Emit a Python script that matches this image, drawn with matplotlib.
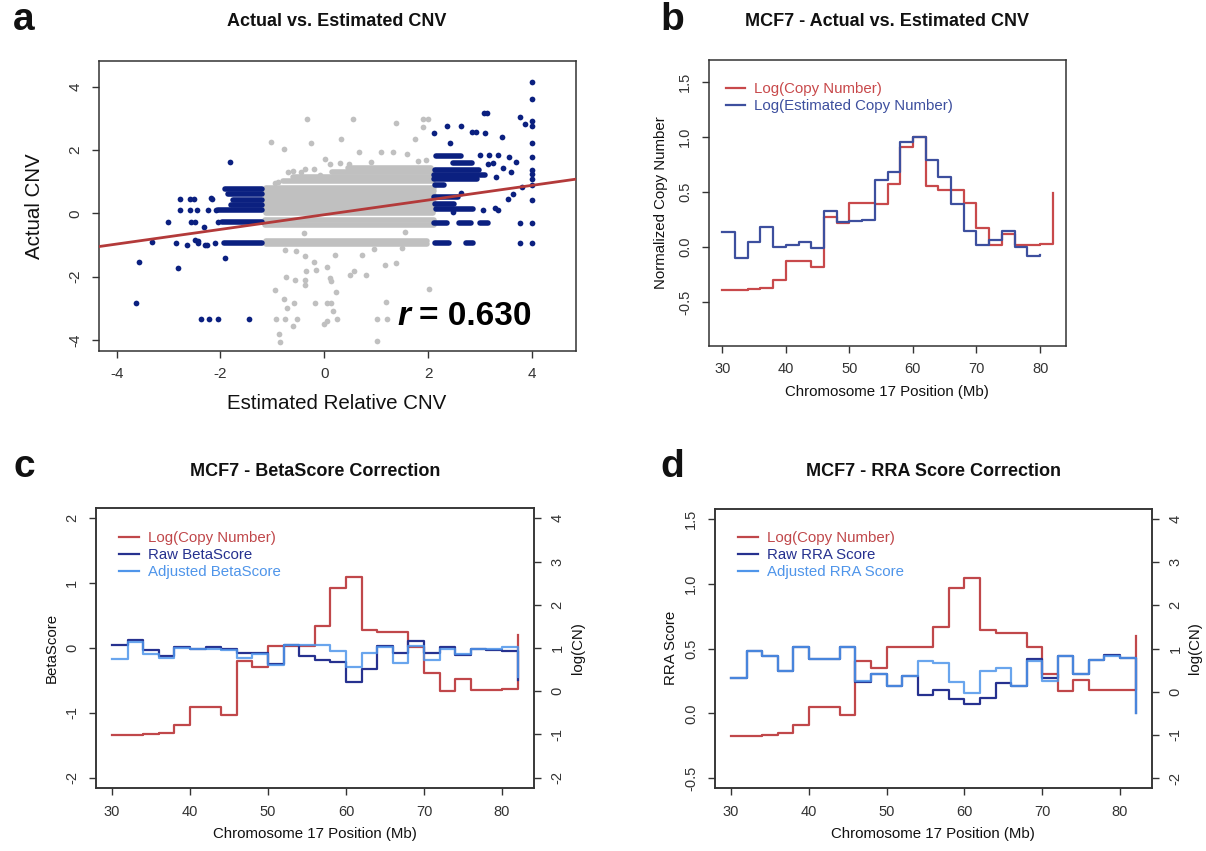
import matplotlib
matplotlib.use('Agg')
import matplotlib.pyplot as plt
from matplotlib.lines import Line2D

plt.rcParams['font.family'] = ['Liberation Sans', 'DejaVu Sans']
plt.rcParams['axes.unicode_minus'] = False

# ---------------- data ----------------
# panel a: scatter of estimated vs actual CNV
# dense runs of points (x start, x end, y)
gray_runs = [(0.45, 2.05, 1.45), (0.15, 2.1, 1.3), (-0.6, 2.1, 1.16), (-0.8, 2.1, 1.04),
             (-1.12, 2.12, 0.82), (-1.15, 2.12, 0.70), (-1.15, 2.12, 0.58), (-1.15, 2.12, 0.46),
             (-1.15, 2.12, 0.34), (-1.15, 2.12, 0.22), (-1.15, 2.12, 0.10), (-1.12, 2.1, 0.02),
             (-1.15, 2.12, -0.22), (-1.15, 2.12, -0.36), (-1.12, 1.98, -0.88), (-1.12, 1.98, -0.98)]
gray_x = [-0.33, 0.56, 1.91, 2.0, 1.39, 1.91, 0.32, 1.74, -1.03, -0.77, -0.25, 0.67, 1.09, 1.32,
          1.6, 0.02, 0.47, -0.61, -0.38, -0.09, -0.75, -0.38, -0.2, 0.06, 0.21, 0.72, 0.58, 0.5,
          0.8, 1.17, 1.39, -0.74, -0.57, -0.38, -0.38, -0.35, -0.16, 0.1, 0.13, -0.95, 0.22, 2.02,
          -0.77, -0.59, -0.18, 0.06, 0.13, 1.18, -0.72, 0.17, -0.94, -0.75, -0.53, 0.24, 1.02, 1.2,
          -0.61, -0.01, 0.06, -0.88, -0.85, 1.01, -0.55, 1.55, -0.45, 0.1, 0.9, 1.8, -0.95, 1.95,
          -0.7, -0.2, 0.3, -0.9, -0.4, 0.95, 1.5]
gray_y = [2.98, 3.0, 2.98, 2.98, 2.85, 2.74, 2.36, 2.36, 2.25, 2.04, 2.22, 1.94, 1.94, 1.94,
          1.88, 1.73, 1.57, 1.34, 1.41, 1.23, -1.15, -1.36, -1.52, -1.68, -1.31, -1.31, -1.83, -1.94,
          -1.94, -1.62, -1.57, -2.02, -2.09, -2.09, -2.25, -1.83, -1.78, -2.04, -2.15, -2.41, -2.48, -2.39,
          -2.72, -2.83, -2.83, -2.83, -2.83, -2.81, -2.98, -3.09, -3.33, -3.35, -3.33, -3.35, -3.35, -3.33,
          -3.56, -3.51, -3.4, -3.82, -4.08, -4.03, -1.2, -0.6, 1.3, 1.55, 1.62, 1.65, 0.95, 1.7,
          1.32, 1.42, 1.58, 1.0, -0.62, -1.12, -1.1]
blue_runs = [(-1.92, -1.2, 0.76), (-1.85, -1.2, 0.6), (-1.75, -1.2, 0.44), (-1.8, -1.2, 0.28),
             (-2.05, -1.2, 0.12), (-1.97, -1.2, -0.28), (-1.93, -1.2, -0.95),
             (2.16, 2.64, 1.82), (2.47, 2.84, 1.58), (2.13, 2.97, 1.38), (2.12, 3.1, 1.22),
             (2.12, 2.95, 1.1), (2.14, 2.3, 0.9), (2.12, 2.58, 0.53), (2.14, 2.5, 0.3),
             (2.16, 2.86, 0.14), (2.12, 2.37, -0.31), (2.59, 2.82, -0.31), (3.0, 3.15, -0.31),
             (2.14, 2.4, -0.94), (2.73, 2.86, -0.94)]
blue_x = [-3.57, -3.62, -3.32, -3.02, -2.82, -2.78, -2.78, -2.65, -2.59, -2.51, -2.59, -2.45,
          -2.57, -2.49, -2.44, -2.26, -2.16, -2.19, -2.24, -2.08, -2.32, -2.04, -2.29, -2.1, -1.81,
          -1.92, -2.38, -2.23, -2.05, -1.45, -2.86, -2.5, -2.43,
          2.11, 2.37, 2.64, 2.84, 2.93, 3.07, 3.14, 3.09, 2.42, 2.99, 3.18, 3.34, 3.25, 3.06, 3.28,
          2.47, 2.64, 3.42, 3.76, 3.87, 4.0, 4.0, 4.0, 4.0, 4.0, 4.0, 4.0, 4.0, 4.0, 4.0, 4.0,
          4.0, 4.0, 3.76, 3.76, 3.35, 3.53, 3.63, 3.8, 3.55, 3.3, 3.15, 3.45, 3.6, 3.7]
blue_y = [-1.52, -2.83, -0.91, -0.26, -1.73, 0.46, 0.1, -1.0, 0.46, 0.46, 0.1, 0.1,
          -0.26, -0.26, -0.86, -1.0, 0.46, 0.48, 0.11, 0.11, -0.42, -0.26, -1.0, -0.92, 1.62,
          -1.42, -3.33, -3.33, -3.33, -3.33, -0.92, -0.84, -0.92,
          2.54, 2.77, 2.77, 2.59, 2.59, 3.17, 3.17, 2.54, 2.22, 1.85, 1.85, 1.85, 1.59, 0.11, 0.16,
          0.06, 0.64, 2.43, 3.06, 2.83, 4.16, 3.61, 2.93, 2.77, 2.22, 1.8, 1.36, 1.26, 1.1, 0.89, 0.42,
          -0.31, -0.92, -0.31, -0.92, 0.1, 0.47, 0.63, 0.84, 1.8, 1.15, 1.57, 1.45, 1.3, 1.62]
fit_point = (0.0, -0.04)
fit_slope = 0.232

# chromosome 17 bins (Mb)
pos = [30, 32, 34, 36, 38, 40, 42, 44, 46, 48, 50, 52, 54, 56, 58, 60, 62, 64, 66, 68,
       70, 72, 74, 76, 78, 80, 82]
pos_est = pos[:-1]

# panel b
b_log_cn = [-0.39, -0.39, -0.38, -0.37, -0.30, -0.13, -0.13, -0.18, 0.27, 0.22, 0.40, 0.40,
            0.39, 0.57, 0.91, 1.00, 0.55, 0.52, 0.52, 0.40, 0.17, 0.02, 0.12, 0.015, 0.02, 0.025, 0.49]
b_log_est = [0.14, -0.10, 0.05, 0.18, 0.0, 0.02, 0.045, -0.01, 0.33, 0.23, 0.24, 0.25, 0.61,
             0.68, 0.95, 1.0, 0.79, 0.64, 0.39, 0.15, 0.02, 0.06, 0.15, 0.0, -0.08, -0.07]

# panels c and d: log copy number (right axis)
log_cn = [-1.02, -1.02, -1.0, -0.96, -0.78, -0.36, -0.36, -0.54, 0.70, 0.55, 1.04, 1.04, 1.04,
          1.50, 2.39, 2.64, 1.42, 1.37, 1.37, 1.03, 0.42, 0.01, 0.28, 0.03, 0.03, 0.05, 1.29]

# panel c
beta_raw = [0.05, 0.12, -0.03, -0.13, 0.01, -0.01, 0.01, -0.02, -0.07, -0.07, -0.24, 0.04,
            -0.13, -0.18, -0.21, -0.52, -0.32, 0.03, -0.07, 0.11, -0.08, 0.01, -0.11, -0.01,
            -0.03, -0.04, -0.50]
beta_adj = [-0.17, 0.09, -0.09, -0.15, 0.0, -0.02, -0.02, -0.03, -0.15, -0.10, -0.26, 0.04,
            0.05, 0.04, -0.05, -0.30, -0.08, 0.02, -0.23, 0.03, -0.19, -0.02, -0.09, -0.01,
            -0.01, 0.02, -0.45]

# panel d
rra_raw = [0.27, 0.48, 0.44, 0.33, 0.51, 0.42, 0.42, 0.51, 0.24, 0.30, 0.21, 0.29, 0.14,
           0.18, 0.11, 0.07, 0.12, 0.23, 0.21, 0.42, 0.27, 0.44, 0.30, 0.41, 0.45, 0.43, 0.0]
rra_adj = [0.27, 0.48, 0.44, 0.33, 0.51, 0.42, 0.42, 0.51, 0.25, 0.30, 0.21, 0.29, 0.40,
           0.39, 0.24, 0.16, 0.33, 0.35, 0.21, 0.40, 0.25, 0.44, 0.30, 0.41, 0.44, 0.43, 0.0]

RED = '#c0474a'
NAVY = '#0b2080'
GRAY = '#c0c0c0'
DARK = '#26318f'
LIGHT = '#4f95ea'
AXC = '#333333'

W, H = 1206, 851
fig = plt.figure(figsize=(W / 100, H / 100), dpi=100)


def place(l, r, t, b):
    return fig.add_axes([l / W, 1 - b / H, (r - l) / W, (b - t) / H])


def ftext(x, y, s, **kw):
    fig.text(x / W, 1 - y / H, s, ha='center', va='center', color='#111111', **kw)


def r_style(ax):
    for sp in ax.spines.values():
        sp.set_color(AXC)
        sp.set_linewidth(1.1)
    ax.tick_params(direction='out', length=5, width=1.0, color=AXC, labelcolor=AXC,
                   labelsize=10.5, pad=7)
    ax.tick_params(axis='y', labelrotation=90)
    for lab in ax.get_yticklabels():
        lab.set_va('center')


# ---------------- panel a ----------------
ax = place(99, 575.6, 61, 350.7)
for x0, x1, y in gray_runs:
    ax.hlines(y, x0, x1, color=GRAY, lw=4.0, capstyle='round', zorder=2)
ax.scatter(gray_x, gray_y, s=17, color=GRAY, lw=0, zorder=2)
for x0, x1, y in blue_runs:
    ax.hlines(y, x0, x1, color=NAVY, lw=4.0, capstyle='round', zorder=3)
ax.scatter(blue_x, blue_y, s=17, color=NAVY, lw=0, zorder=3)
ax.axline(fit_point, slope=fit_slope, color='#b33a3a', lw=2.0, zorder=4)
ax.set_xlim(-4.34, 4.84)
ax.set_ylim(-4.34, 4.82)
ax.set_xticks([-4, -2, 0, 2, 4])
ax.set_yticks([-4, -2, 0, 2, 4])
r_style(ax)
ax.tick_params(labelsize=11)
ax.text(1.40, -3.25, 'r', fontsize=24, fontweight='bold', fontstyle='italic', va='center',
        zorder=5)
ax.text(1.82, -3.25, '= 0.630', fontsize=24, fontweight='bold', va='center', zorder=5)
ftext(337, 22, 'Actual vs. Estimated CNV', fontsize=13, fontweight='bold')
ftext(24, 20, 'a', fontsize=28, fontweight='bold')
ftext(35, 206, 'Actual CNV', fontsize=14.8, rotation=90)
ftext(337, 404, 'Estimated Relative CNV', fontsize=14.8)

# ---------------- panel b ----------------
ax = place(709, 1066, 60.4, 345.6)
ax.step(pos, b_log_cn, where='post', color='#c8494b', lw=1.6, label='Log(Copy Number)')
ax.step(pos_est, b_log_est, where='post', color='#3d4f9e', lw=1.6,
        label='Log(Estimated Copy Number)')
ax.set_xlim(27.92, 84.08)
ax.set_ylim(-0.896, 1.696)
ax.set_xticks([30, 40, 50, 60, 70, 80])
ax.set_yticks([-0.5, 0.0, 0.5, 1.0, 1.5])
ax.set_yticklabels(['-0.5', '0.0', '0.5', '1.0', '1.5'])
r_style(ax)
ax.legend(loc='upper left', bbox_to_anchor=(0.03, 0.945), frameon=False, fontsize=10.8,
          labelcolor='linecolor', handlelength=1.3, handletextpad=0.6, labelspacing=0.2,
          borderaxespad=0)
ftext(887, 22, 'MCF7 - Actual vs. Estimated CNV', fontsize=13, fontweight='bold')
ftext(672, 20, 'b', fontsize=28, fontweight='bold')
ftext(661, 203, 'Normalized Copy Number', fontsize=10.8, rotation=90)
ftext(887, 392, 'Chromosome 17 Position (Mb)', fontsize=10.8)


# ---------------- panels c, d ----------------
def score_panel(l, r, t, b, raw, adj, ylim, yticks, yticklabels, raw_lab, adj_lab,
                title, letter, ylab, cx, lx, rx):
    ax = place(l, r, t, b)
    ax2 = ax.twinx()
    ax.set_zorder(ax2.get_zorder() + 1)
    ax.patch.set_visible(False)
    h_cn, = ax2.step(pos, log_cn, where='post', color=RED, lw=1.6)
    h_raw, = ax.step(pos, raw, where='post', color=DARK, lw=1.6)
    h_adj, = ax.step(pos, adj, where='post', color=LIGHT, lw=1.6, alpha=0.85)
    ax.set_xlim(27.92, 84.08)
    ax.set_ylim(*ylim)
    ax.set_xticks([30, 40, 50, 60, 70, 80])
    ax.set_yticks(yticks)
    ax.set_yticklabels(yticklabels)
    ax2.set_ylim(-2.24, 4.24)
    ax2.set_yticks([-2, -1, 0, 1, 2, 3, 4])
    r_style(ax)
    r_style(ax2)
    for lab in ax2.get_yticklabels():
        lab.set_va('center')
    ax.legend([h_cn, h_raw, Line2D([], [], color=LIGHT, lw=1.6)],
              ['Log(Copy Number)', raw_lab, adj_lab], loc='upper left',
              bbox_to_anchor=(0.04, 0.94), frameon=False, fontsize=10.8,
              labelcolor=[RED, DARK, LIGHT], handlelength=1.3, handletextpad=0.6,
              labelspacing=0.2, borderaxespad=0)
    ftext(cx, 471, title, fontsize=13, fontweight='bold')
    ftext(letter[1], 467, letter[0], fontsize=28, fontweight='bold')
    ftext(lx, 648, ylab, fontsize=10.8, rotation=90)
    ftext(rx, 648, 'log(CN)', fontsize=10.8, rotation=90)
    ftext(cx, 834, 'Chromosome 17 Position (Mb)', fontsize=10.8)


score_panel(95.8, 533.8, 508, 788, beta_raw, beta_adj, (-2.16, 2.16), [-2, -1, 0, 1, 2],
            ['-2', '-1', '0', '1', '2'], 'Raw BetaScore', 'Adjusted BetaScore',
            'MCF7 - BetaScore Correction', ('c', 24), 'BetaScore', 315, 52, 578)
score_panel(714.8, 1151.8, 508.6, 788.4, rra_raw, rra_adj, (-0.58, 1.58),
            [-0.5, 0.0, 0.5, 1.0, 1.5], ['-0.5', '0.0', '0.5', '1.0', '1.5'],
            'Raw RRA Score', 'Adjusted RRA Score', 'MCF7 - RRA Score Correction', ('d', 672),
            'RRA Score', 933, 671, 1195)

fig.savefig('out.png', dpi=100, facecolor='white')
